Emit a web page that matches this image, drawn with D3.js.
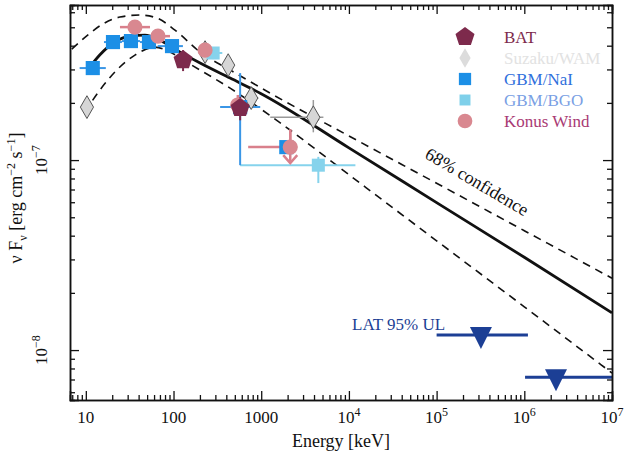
<!DOCTYPE html>
<html>
<head>
<meta charset="utf-8">
<script src="https://cdn.jsdelivr.net/npm/d3@7"></script>
<style>
  body { margin: 0; background: #fff; }
  text { font-family: "Liberation Serif", "DejaVu Serif", serif; }
</style>
</head>
<body>
<div id="chart"></div>
<script>
// model curves: [energy keV, nuFnu erg/cm2/s]
var modelBest = [[10.5, 2.98e-7], [14.4, 3.57e-7], [21.4, 4.18e-7], [31.8, 4.49e-7], [47.2, 4.55e-7],
    [70, 4.28e-7], [119, 3.70e-7], [201, 3.24e-7], [442, 2.70e-7], [974, 2.25e-7],
    [1e4, 1.16e-7], [1e5, 5.97e-8], [1e6, 3.08e-8], [1e7, 1.57e-8]];
var modelUpper = [[6.92, 3.84e-7], [10.5, 4.55e-7], [15.6, 5.20e-7], [24.5, 5.66e-7], [41.4, 5.80e-7],
    [64.7, 5.59e-7], [104, 4.83e-7], [201, 3.70e-7], [442, 2.98e-7], [1268, 2.25e-7],
    [1e4, 1.34e-7], [1e5, 7.55e-8], [1e6, 4.25e-8], [1e7, 2.39e-8]];
var modelLower = [[9.74, 1.79e-7], [14.4, 2.33e-7], [22.6, 2.98e-7], [36.3, 3.57e-7], [61.5, 3.93e-7],
    [91.2, 3.70e-7], [154, 3.20e-7], [442, 2.39e-7], [1648, 1.57e-7],
    [1e4, 8.38e-8], [1e5, 3.76e-8], [1e6, 1.69e-8], [1e7, 7.57e-9]];

// data points: e, f, energy range, flux range
var batData = [
    {e: 128.5, f: 3.36e-7, e0: 105, e1: 160, f0: 2.94e-7, f1: 3.79e-7},
    {e: 575, f: 1.88e-7, e0: 480, e1: 690, f0: 1.62e-7, f1: 2.15e-7}
];
var wamData = [
    {e: 10.3, f: 1.90e-7, e0: 10.3, e1: 10.3, f0: 1.90e-7, f1: 1.90e-7},
    {e: 229, f: 3.70e-7, e0: 190, e1: 275, f0: 3.45e-7, f1: 3.95e-7},
    {e: 420, f: 3.16e-7, e0: 350, e1: 500, f0: 2.95e-7, f1: 3.40e-7},
    {e: 769, f: 2.12e-7, e0: 640, e1: 930, f0: 1.90e-7, f1: 2.35e-7},
    {e: 3928, f: 1.68e-7, e0: 1268, e1: 5117, f0: 1.40e-7, f1: 2.07e-7}
];
var naiData = [
    {e: 12.0, f: 3.05e-7, e0: 8.5, e1: 16.9, f0: 2.84e-7, f1: 3.28e-7},
    {e: 20.4, f: 4.18e-7, e0: 16.1, e1: 25.8, f0: 3.95e-7, f1: 4.40e-7},
    {e: 32.7, f: 4.23e-7, e0: 25.8, e1: 41.4, f0: 4.00e-7, f1: 4.45e-7},
    {e: 52.5, f: 4.18e-7, e0: 41.4, e1: 66.0, f0: 3.95e-7, f1: 4.40e-7},
    {e: 96.1, f: 3.98e-7, e0: 66.0, e1: 128, f0: 3.70e-7, f1: 4.25e-7},
    {e: 575, f: 1.90e-7, e0: 340, e1: 974, f0: 9.4e-8, f1: 2.87e-7},
    {e: 1932, f: 1.17e-7, e0: 1700, e1: 2200, f0: 1.10e-7, f1: 1.25e-7}
];
var bgoData = [
    {e: 283, f: 3.66e-7, e0: 220, e1: 360, f0: 3.40e-7, f1: 3.90e-7},
    {e: 4480, f: 9.4e-8, e0: 575, e1: 11860, f0: 7.57e-8, f1: 1.04e-7}
];
var konusData = [
    {e: 36.3, f: 5.01e-7, e0: 24.5, e1: 53.9, f0: 4.80e-7, f1: 5.25e-7},
    {e: 66.5, f: 4.49e-7, e0: 53.9, e1: 91.2, f0: 4.30e-7, f1: 4.70e-7},
    {e: 229, f: 3.79e-7, e0: 190, e1: 275, f0: 3.60e-7, f1: 4.00e-7},
    {e: 541, f: 1.95e-7, e0: 450, e1: 650, f0: 1.75e-7, f1: 2.20e-7},
    {e: 2143, f: 1.17e-7, e0: 710, e1: 2576, f0: 1.17e-7, f1: 1.45e-7}
];
var latUL = [
    {e: 3.2e5, f: 1.2e-8, e0: 1e5, e1: 1.1e6},
    {e: 2.3e6, f: 7.2e-9, e0: 1.02e6, e1: 1e7}
];

var xTicks = [10, 100, 1000, 1e4, 1e5, 1e6, 1e7];
var xTickLabels = [["10", ""], ["100", ""], ["1000", ""], ["10", "4"], ["10", "5"], ["10", "6"], ["10", "7"]];
var yTicks = [1e-8, 1e-7];
var yTickLabels = [["10", "\u22128"], ["10", "\u22127"]];

var legendNames = ["BAT", "Suzaku/WAM", "GBM/NaI", "GBM/BGO", "Konus Wind"];
var legendColors = ["#7d2a4c", "#dcdcdc", "#1c8fe6", "#7fd0ea", "#d98890"];
var legendTextColors = ["#7d2a4c", "#e2e2e2", "#2f6fdc", "#7a9fe4", "#a93a74"];

function init() {
    var w = 626, h = 463;
    var left = 70, right = 612, top = 5, bottom = 400;

    var svg = d3.select("#chart").append("svg")
        .attr("width", w).attr("height", h);

    var x = d3.scaleLog().domain([6.6, 1e7]).range([left, right]);
    var y = d3.scaleLog().domain([5.46e-9, 6.55e-7]).range([bottom, top]);

    svg.append("clipPath").attr("id", "plot")
        .append("rect").attr("x", left).attr("y", top)
        .attr("width", right - left).attr("height", bottom - top);

    var g = svg.append("g").attr("clip-path", "url(#plot)");

    var line = d3.line()
        .x(function (d) { return x(d[0]); })
        .y(function (d) { return y(d[1]); })
        .curve(d3.curveMonotoneX);

    g.append("path").datum(modelUpper).attr("d", line)
        .attr("fill", "none").attr("stroke", "#111").attr("stroke-width", 1.6)
        .attr("stroke-dasharray", "8,6");
    g.append("path").datum(modelLower).attr("d", line)
        .attr("fill", "none").attr("stroke", "#111").attr("stroke-width", 1.6)
        .attr("stroke-dasharray", "8,6");
    g.append("path").datum(modelBest).attr("d", line)
        .attr("fill", "none").attr("stroke", "#111").attr("stroke-width", 2.8);

    // error bars + markers for each instrument
    function errBars(data, color, width) {
        var eg = g.append("g");
        eg.selectAll(".h").data(data).enter().append("line")
            .attr("x1", function (d) { return x(d.e0); })
            .attr("x2", function (d) { return x(d.e1); })
            .attr("y1", function (d) { return y(d.f); })
            .attr("y2", function (d) { return y(d.f); })
            .attr("stroke", color).attr("stroke-width", width);
        eg.selectAll(".v").data(data).enter().append("line")
            .attr("x1", function (d) { return x(d.e); })
            .attr("x2", function (d) { return x(d.e); })
            .attr("y1", function (d) { return y(d.f0); })
            .attr("y2", function (d) { return y(d.f1); })
            .attr("stroke", color).attr("stroke-width", width);
    }

    function pentagon(r) {
        var p = d3.path();
        for (var i = 0; i < 5; i++) {
            var a = -Math.PI / 2 + i * 2 * Math.PI / 5;
            if (i === 0) p.moveTo(r * Math.cos(a), r * Math.sin(a));
            else p.lineTo(r * Math.cos(a), r * Math.sin(a));
        }
        p.closePath();
        return p.toString();
    }

    function markers(data, pathStr, fill, stroke) {
        g.append("g").selectAll("path").data(data).enter().append("path")
            .attr("d", pathStr)
            .attr("transform", function (d) { return "translate(" + x(d.e) + "," + y(d.f) + ")"; })
            .attr("fill", fill)
            .attr("stroke", stroke || "none")
            .attr("stroke-width", 1);
    }

    errBars(wamData, "#9a9a9a", 1.5);
    errBars(bgoData, "#86d3ec", 2);
    errBars(naiData, "#3a96e6", 2);
    errBars(konusData, "#d9808c", 2.5);
    errBars(batData, "#7d2a4c", 2);

    // Konus upper-limit arrow
    var ul = konusData[konusData.length - 1];
    g.append("line").attr("x1", x(ul.e)).attr("x2", x(ul.e))
        .attr("y1", y(ul.f1)).attr("y2", y(ul.f) + 14)
        .attr("stroke", "#d9808c").attr("stroke-width", 2.5);
    g.append("path")
        .attr("d", "M-7,-6L0,2L7,-6")
        .attr("transform", "translate(" + x(ul.e) + "," + (y(ul.f) + 14) + ")")
        .attr("fill", "none").attr("stroke", "#d9808c").attr("stroke-width", 2.5);

    markers(wamData, d3.symbol().type(d3.symbolDiamond).size(150)(), "#d6d6d6", "#555");
    markers(bgoData, d3.symbol().type(d3.symbolSquare).size(170)(), "#86d3ec");
    markers(naiData, d3.symbol().type(d3.symbolSquare).size(200)(), "#1c8fe6");
    markers(konusData, d3.symbol().type(d3.symbolCircle).size(180)(), "#d98890");
    markers(batData, pentagon(10), "#7d2a4c");

    // LAT upper limits
    var latColor = "#1c3f95";
    g.selectAll(".lat").data(latUL).enter().append("line")
        .attr("x1", function (d) { return x(d.e0); })
        .attr("x2", function (d) { return x(d.e1); })
        .attr("y1", function (d) { return y(d.f); })
        .attr("y2", function (d) { return y(d.f); })
        .attr("stroke", latColor).attr("stroke-width", 3);
    g.selectAll(".latTri").data(latUL).enter().append("path")
        .attr("d", "M-11,-8L11,-8L0,14Z")
        .attr("transform", function (d) { return "translate(" + x(d.e) + "," + y(d.f) + ")"; })
        .attr("fill", latColor);

    svg.append("text").attr("x", 352).attr("y", 330)
        .attr("fill", latColor).attr("font-size", 17).text("LAT 95% UL");

    // 68% confidence label along the band
    svg.append("text")
        .attr("transform", "translate(474,187) rotate(30.5)")
        .attr("text-anchor", "middle").attr("font-size", 18).attr("fill", "#111")
        .text("68% confidence");

    // axes with inward ticks
    function minorVals(lo, hi) {
        var out = [];
        for (var k = Math.floor(Math.log10(lo)); k <= Math.ceil(Math.log10(hi)); k++) {
            for (var m = 2; m <= 9; m++) {
                var v = m * Math.pow(10, k);
                if (v >= lo && v <= hi) out.push(v);
            }
        }
        return out;
    }
    var xMinor = minorVals(6.6, 1e7);
    var yMinor = minorVals(5.46e-9, 6.55e-7);

    function drawAxis(axisFn, scale, tr, major, minor) {
        svg.append("g").attr("transform", tr)
            .call(axisFn(scale).tickValues(major).tickSize(-9).tickFormat(""));
        svg.append("g").attr("transform", tr)
            .call(axisFn(scale).tickValues(minor).tickSize(-5).tickFormat(""));
    }
    drawAxis(d3.axisBottom, x, "translate(0," + bottom + ")", xTicks, xMinor);
    drawAxis(d3.axisTop, x, "translate(0," + top + ")", xTicks, xMinor);
    drawAxis(d3.axisLeft, y, "translate(" + left + ",0)", yTicks, yMinor);
    drawAxis(d3.axisRight, y, "translate(" + right + ",0)", yTicks, yMinor);
    svg.selectAll(".domain").attr("stroke", "#111").attr("stroke-width", 1.5);
    svg.selectAll(".tick line").attr("stroke", "#111").attr("stroke-width", 1.3);

    // tick labels
    var xl = svg.append("g");
    xTicks.forEach(function (v, i) {
        var t = xl.append("text").attr("x", x(v)).attr("y", bottom + 23)
            .attr("text-anchor", "middle").attr("font-size", 17).attr("fill", "#111");
        t.append("tspan").text(xTickLabels[i][0]);
        if (xTickLabels[i][1]) {
            t.append("tspan").attr("dy", -7).attr("font-size", 12).text(xTickLabels[i][1]);
        }
    });
    yTicks.forEach(function (v, i) {
        var t = xl.append("text").attr("transform", "translate(" + 47 + "," + y(v) + ") rotate(-90)")
            .attr("text-anchor", "middle").attr("font-size", 17).attr("fill", "#111");
        t.append("tspan").text(yTickLabels[i][0]);
        t.append("tspan").attr("dy", -7).attr("font-size", 12).text(yTickLabels[i][1]);
    });

    // axis titles
    svg.append("text").attr("x", 341).attr("y", 447).attr("text-anchor", "middle")
        .attr("font-size", 18).attr("fill", "#111").text("Energy [keV]");
    var yt = svg.append("text").attr("transform", "translate(22,198) rotate(-90)")
        .attr("text-anchor", "middle").attr("font-size", 18).attr("fill", "#111");
    yt.append("tspan").text("\u03bd F");
    yt.append("tspan").attr("dy", 5).attr("font-size", 12).text("\u03bd");
    yt.append("tspan").attr("dy", -5).text(" [erg cm");
    yt.append("tspan").attr("dy", -7).attr("font-size", 12).text("\u22122");
    yt.append("tspan").attr("dy", 7).text(" s");
    yt.append("tspan").attr("dy", -7).attr("font-size", 12).text("\u22121");
    yt.append("tspan").attr("dy", 7).text("]");

    // legend
    var legShapes = [
        pentagon(10),
        d3.symbol().type(d3.symbolDiamond).size(110)(),
        d3.symbol().type(d3.symbolSquare).size(150)(),
        d3.symbol().type(d3.symbolSquare).size(120)(),
        d3.symbol().type(d3.symbolCircle).size(170)()
    ];
    var leg = svg.append("g");
    legendNames.forEach(function (name, i) {
        var ly = 37 + i * 21;
        leg.append("path").attr("d", legShapes[i])
            .attr("transform", "translate(465," + ly + ")")
            .attr("fill", legendColors[i]);
        leg.append("text").attr("x", 504).attr("y", ly + 6)
            .attr("font-size", 17).attr("fill", legendTextColors[i]).text(name);
    });
}

window.onload = init;
</script>
</body>
</html>
